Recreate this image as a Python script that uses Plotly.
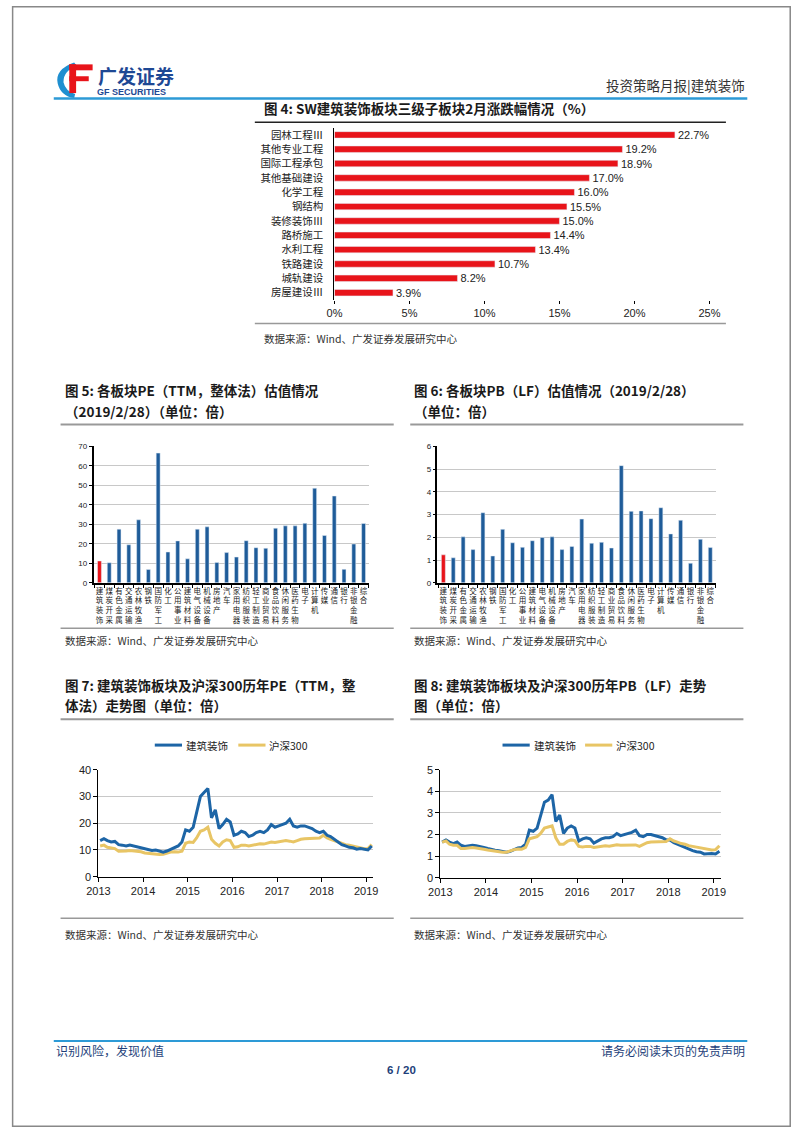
import plotly.graph_objects as go
import pandas as pd

W, H = 802, 1133

# ---------------- data ----------------
sub_cats = ["园林工程Ⅲ", "其他专业工程", "国际工程承包", "其他基础建设", "化学工程", "钢结构",
            "装修装饰Ⅲ", "路桥施工", "水利工程", "铁路建设", "城轨建设", "房屋建设Ⅲ"]
sub_chg = [22.7, 19.2, 18.9, 17.0, 16.0, 15.5, 15.0, 14.4, 13.4, 10.7, 8.2, 3.9]

sectors = ["建筑装饰", "煤炭开采", "有色金属", "交通运输", "农林牧渔", "钢铁", "国防军工", "化工",
           "公用事业", "建筑材料", "电气设备", "机械设备", "房地产", "汽车", "家用电器", "纺织服装",
           "轻工制造", "商业贸易", "食品饮料", "休闲服务", "医药生物", "电子", "计算机", "传媒",
           "通信", "银行", "非银金融", "综合"]
pe_vals = [11.2, 10.3, 27.5, 19.5, 32.3, 6.8, 66.5, 15.8, 21.5, 12.3, 27.5, 28.7, 10.4, 15.5,
           13.2, 21.6, 18.0, 17.7, 28.0, 29.2, 29.2, 30.5, 48.5, 24.3, 44.5, 6.9, 19.9, 30.4]
pb_vals = [1.23, 1.10, 2.02, 1.46, 3.08, 1.18, 2.35, 1.76, 1.56, 1.85, 1.99, 2.02, 1.46, 1.60,
           2.80, 1.74, 1.78, 1.53, 5.15, 3.14, 3.16, 2.82, 3.30, 2.15, 2.75, 0.86, 1.91, 1.55]

months = pd.date_range("2013-01-01", "2019-02-01", freq="MS") + pd.Timedelta(days=14)

pe_jz = [13.5, 14.2, 13.5, 13.0, 13.2, 12.0, 11.8, 11.5, 11.8, 11.5, 11.2, 10.8,
         10.5, 10.3, 9.8, 10.0, 9.5, 9.2, 9.6, 10.2, 11.0, 11.5, 13.0, 17.5,
         17.0, 18.5, 24.0, 30.0, 31.5, 33.0, 22.0, 25.0, 18.0, 19.5, 21.5, 20.5,
         15.5, 16.0, 17.0, 16.5, 15.0, 15.5, 16.5, 17.0, 16.5, 17.5, 19.5, 18.5,
         19.0, 19.5, 20.0, 21.5, 19.0, 18.5, 19.0, 19.0, 18.5, 18.0, 17.0, 16.5,
         17.0, 15.5, 15.0, 14.0, 13.0, 12.0, 11.5, 11.0, 10.8, 10.3, 10.5, 10.2,
         10.0, 11.5]
pe_hs = [11.5, 11.8, 11.0, 10.8, 10.5, 9.5, 9.5, 9.6, 9.8, 9.7, 9.6, 9.3,
         8.9, 8.7, 8.5, 8.4, 8.3, 8.4, 8.8, 9.2, 9.3, 9.2, 9.5, 12.5,
         13.0, 12.8, 14.5, 17.0, 17.5, 18.5, 14.0, 12.5, 11.5, 13.0, 13.8, 13.5,
         11.0, 11.2, 11.8, 11.8, 11.5, 11.8, 12.0, 12.3, 12.2, 12.5, 13.0, 12.8,
         13.0, 13.2, 13.5, 13.3, 13.0, 13.5, 14.0, 14.2, 14.3, 14.5, 14.5, 14.5,
         15.5, 14.5, 14.0, 13.5, 13.0, 12.5, 12.0, 11.8, 11.5, 11.0, 10.8, 10.5,
         10.5, 12.0]
pb_jz = [1.65, 1.75, 1.65, 1.58, 1.65, 1.50, 1.45, 1.48, 1.50, 1.48, 1.45, 1.40,
         1.35, 1.30, 1.27, 1.25, 1.20, 1.18, 1.22, 1.30, 1.38, 1.40, 1.55, 2.20,
         2.15, 2.30, 2.90, 3.50, 3.60, 3.85, 2.60, 2.90, 2.05, 2.30, 2.40, 2.30,
         1.70, 1.80, 1.85, 1.80, 1.60, 1.70, 1.80, 1.85, 1.85, 1.90, 2.05, 1.95,
         2.00, 2.05, 2.10, 2.20, 1.95, 1.90, 2.00, 2.00, 1.95, 1.90, 1.85, 1.75,
         1.75, 1.62, 1.55, 1.48, 1.40, 1.30, 1.25, 1.20, 1.18, 1.10, 1.12, 1.12,
         1.10, 1.22]
pb_hs = [1.65, 1.70, 1.55, 1.50, 1.50, 1.35, 1.35, 1.38, 1.40, 1.38, 1.36, 1.32,
         1.28, 1.25, 1.22, 1.22, 1.18, 1.18, 1.25, 1.30, 1.33, 1.32, 1.40, 1.80,
         1.85, 1.90, 2.05, 2.30, 2.35, 2.40, 1.85, 1.55, 1.55, 1.68, 1.75, 1.72,
         1.45, 1.42, 1.45, 1.45, 1.40, 1.42, 1.45, 1.48, 1.46, 1.48, 1.52, 1.50,
         1.50, 1.52, 1.53, 1.52, 1.45, 1.55, 1.62, 1.65, 1.66, 1.68, 1.70, 1.68,
         1.80, 1.70, 1.65, 1.58, 1.55, 1.48, 1.45, 1.42, 1.40, 1.35, 1.32, 1.28,
         1.30, 1.48]

year_ticks = ["2013", "2014", "2015", "2016", "2017", "2018", "2019"]

# ---------------- styles ----------------
RED = "#e8141a"
BLUE = "#1f5c99"
LBLUE = "#1d65a6"
GOLD = "#e8c565"
GRID = "#c8c8c8"
CJK = "Noto Sans CJK SC"
LAT = "Liberation Sans, Arial, sans-serif"


def X(px):
    return px / W


def Y(py):
    return 1 - py / H


def xd(a, b):
    return [X(a), X(b)]


def yd(top, bottom):
    return [Y(bottom), Y(top)]


fig = go.Figure()

# Fig 4 horizontal bars
fig.add_trace(go.Bar(
    y=sub_cats, x=sub_chg, orientation="h", marker_color=RED, width=0.45,
    texttemplate="%{x:.1f}%", textposition="outside", cliponaxis=False,
    constraintext="none", textangle=0,
    textfont=dict(family=LAT, size=11, color="#222"),
    xaxis="x", yaxis="y", showlegend=False, hoverinfo="skip"))

# Fig 5 PE bars
bar_colors = [RED] + [BLUE] * (len(sectors) - 1)
fig.add_trace(go.Bar(x=sectors, y=pe_vals, marker_color=bar_colors, width=0.4,
                     xaxis="x2", yaxis="y2", showlegend=False, hoverinfo="skip"))
# Fig 6 PB bars
fig.add_trace(go.Bar(x=sectors, y=pb_vals, marker_color=bar_colors, width=0.4,
                     xaxis="x3", yaxis="y3", showlegend=False, hoverinfo="skip"))

# Fig 7 PE lines
fig.add_trace(go.Scatter(x=months, y=pe_hs, mode="lines", line=dict(color=GOLD, width=3),
                         xaxis="x4", yaxis="y4", showlegend=False, hoverinfo="skip"))
fig.add_trace(go.Scatter(x=months, y=pe_jz, mode="lines", line=dict(color=LBLUE, width=3),
                         xaxis="x4", yaxis="y4", showlegend=False, hoverinfo="skip"))
# Fig 8 PB lines
fig.add_trace(go.Scatter(x=months, y=pb_jz, mode="lines", line=dict(color=LBLUE, width=3),
                         xaxis="x5", yaxis="y5", showlegend=False, hoverinfo="skip"))
fig.add_trace(go.Scatter(x=months, y=pb_hs, mode="lines", line=dict(color=GOLD, width=3),
                         xaxis="x5", yaxis="y5", showlegend=False, hoverinfo="skip"))

vert_labels = ["<br>".join(list(s)) for s in sectors]

small_tick = dict(family=LAT, size=8, color="#222")
mid_tick = dict(family=LAT, size=11, color="#222")

cat_x = dict(type="category", tickmode="array", tickvals=sectors, ticktext=vert_labels,
             tickangle=0, tickfont=dict(family=CJK, size=7.5, color="#222"),
             showline=True, linecolor="#000", linewidth=1.5, ticks="outside",
             tickson="boundaries", ticklen=3, tickcolor="#000", showgrid=False,
             range=[-0.6, 27.6])

date_x = dict(type="date", range=["2013-01-01", "2019-02-28"],
              tickvals=[f"{y}-01-01" for y in year_ticks], ticktext=year_ticks,
              tickfont=mid_tick, showline=True, linecolor="#000", linewidth=1,
              ticks="outside", ticklen=4, tickcolor="#000", showgrid=False)

fig.update_layout(
    width=W, height=H, margin=dict(l=0, r=0, t=0, b=0),
    paper_bgcolor="white", plot_bgcolor="rgba(0,0,0,0)",
    bargap=0.5,
    xaxis=dict(domain=xd(332, 718), anchor="y", range=[0, 25],
               tickvals=[0, 5, 10, 15, 20, 25], ticktext=["0%", "5%", "10%", "15%", "20%", "25%"],
               tickfont=mid_tick, showgrid=False, zeroline=False, showline=False,
               ticks="outside", ticklen=3, tickcolor="#000"),
    yaxis=dict(domain=yd(123, 297), anchor="x", type="category", autorange="reversed",
               tickfont=dict(family=CJK, size=10.5, color="#222"),
               showline=True, linecolor="#000", linewidth=1, ticks="", ticklabelstandoff=8),
    xaxis2=dict(domain=xd(84, 368), anchor="y2", **cat_x),
    yaxis2=dict(domain=yd(445, 583), anchor="x2", range=[0, 70], dtick=10,
                tickfont=small_tick, showgrid=True, gridcolor=GRID, gridwidth=1,
                showline=True, linecolor="#000", linewidth=1.5, zeroline=False,
                ticks="outside", ticklen=3, tickcolor="#000"),
    xaxis3=dict(domain=xd(438, 725), anchor="y3", **cat_x),
    yaxis3=dict(domain=yd(445, 583), anchor="x3", range=[0, 6], dtick=1,
                tickfont=small_tick, showgrid=True, gridcolor=GRID, gridwidth=1,
                showline=True, linecolor="#000", linewidth=1.5, zeroline=False,
                ticks="outside", ticklen=3, tickcolor="#000"),
    xaxis4=dict(domain=xd(89, 372), anchor="y4", **date_x),
    yaxis4=dict(domain=yd(772, 880), anchor="x4", range=[0, 40], dtick=10,
                tickfont=mid_tick, showgrid=True, gridcolor=GRID, gridwidth=1,
                showline=True, linecolor="#000", linewidth=1, zeroline=False,
                ticks="outside", ticklen=4, tickcolor="#000"),
    xaxis5=dict(domain=xd(441, 730), anchor="y5", **date_x),
    yaxis5=dict(domain=yd(772, 881), anchor="x5", range=[0, 5], dtick=1,
                tickfont=mid_tick, showgrid=True, gridcolor=GRID, gridwidth=1,
                showline=True, linecolor="#000", linewidth=1, zeroline=False,
                ticks="outside", ticklen=4, tickcolor="#000"),
)

shapes = []
annos = []


def hline(y, x0, x1, color, width):
    shapes.append(dict(type="line", xref="paper", yref="paper", x0=X(x0), x1=X(x1),
                       y0=Y(y), y1=Y(y), line=dict(color=color, width=width)))


def text(x, y, s, size=11, color="#333", bold=False, anchor="left", family=CJK):
    annos.append(dict(xref="paper", yref="paper", x=X(x), y=Y(y), text=(f"<b>{s}</b>" if bold else s),
                      showarrow=False, xanchor=anchor, yanchor="middle",
                      font=dict(family=family, size=size, color=color)))


# page border
shapes.append(dict(type="rect", xref="paper", yref="paper", x0=0.0008, x1=0.999, y0=0.0006, y1=0.9994,
                   line=dict(color="#888", width=1.5)))

# header logo
shapes.append(dict(type="path", xref="paper", yref="paper",
                   path=f"M {X(64)},{Y(57)} Q {X(44)},{Y(64)} {X(47)},{Y(78)} Q {X(50)},{Y(91)} {X(64)},{Y(93)} "
                        f"L {X(65)},{Y(89)} Q {X(55)},{Y(86)} {X(53)},{Y(77)} Q {X(53)},{Y(65)} {X(67)},{Y(61)} Z",
                   fillcolor="#1f8fd0", line=dict(width=0)))
for (a, b, c, d) in [(59, 59, 83, 65), (59, 59, 66, 88), (59, 71, 79, 76)]:
    shapes.append(dict(type="rect", xref="paper", yref="paper", x0=X(a), x1=X(c), y0=Y(d), y1=Y(b),
                       fillcolor="#e8141a", line=dict(width=0)))
text(86, 70, "广发证券", size=19, color="#1e4894", bold=True)
text(85, 87, "GF SECURITIES", size=9, color="#1e4894", bold=True, family=LAT)
text(757, 80, "投资策略月报|建筑装饰", size=13.5, color="#333", anchor="right")
hline(93.5, 43, 757, "#2d9ad6", 2.5)

# figure 4
text(257, 103, "图 4: SW建筑装饰板块三级子板块2月涨跌幅情况（%）", size=13.5, color="#1a1a1a", bold=True)
hline(117.5, 250, 735, "#222", 1.5)
hline(321, 250, 735, "#999", 1.5)
text(257, 336, "数据来源：Wind、广发证券发展研究中心", size=10.5, color="#333")

# figure 5 / 6 titles
text(52, 388, "图 5: 各板块PE（TTM，整体法）估值情况", size=13.5, color="#1a1a1a", bold=True)
text(52, 409, "（2019/2/28）（单位：倍）", size=13.5, color="#1a1a1a", bold=True)
text(412, 388, "图 6: 各板块PB（LF）估值情况（2019/2/28）", size=13.5, color="#1a1a1a", bold=True)
text(412, 409, "（单位：倍）", size=13.5, color="#1a1a1a", bold=True)
hline(423, 50, 393, "#999", 2)
hline(423, 410, 753, "#999", 2)
hline(629, 50, 393, "#999", 1.5)
hline(629, 410, 753, "#999", 1.5)
text(52, 641, "数据来源：Wind、广发证券发展研究中心", size=10.5, color="#333")
text(412, 641, "数据来源：Wind、广发证券发展研究中心", size=10.5, color="#333")

# figure 7 / 8 titles
text(52, 686, "图 7: 建筑装饰板块及沪深300历年PE（TTM，整", size=13.5, color="#1a1a1a", bold=True)
text(52, 706, "体法）走势图（单位：倍）", size=13.5, color="#1a1a1a", bold=True)
text(412, 686, "图 8: 建筑装饰板块及沪深300历年PB（LF）走势", size=13.5, color="#1a1a1a", bold=True)
text(412, 706, "图（单位：倍）", size=13.5, color="#1a1a1a", bold=True)
hline(721, 50, 393, "#999", 2)
hline(721, 410, 753, "#999", 2)

# legends for fig 7 / 8
for (bx, yx) in [(147, 233), (505, 590)]:
    hline(747, bx, bx + 28, LBLUE, 3)
    text(bx + 30, 747, "建筑装饰", size=10.5, color="#222")
    hline(747, yx, yx + 28, GOLD, 3)
    text(yx + 30, 747, "沪深300", size=10.5, color="#222")

hline(922, 50, 393, "#999", 1.5)
hline(922, 410, 753, "#999", 1.5)
text(52, 938, "数据来源：Wind、广发证券发展研究中心", size=10.5, color="#333")
text(412, 938, "数据来源：Wind、广发证券发展研究中心", size=10.5, color="#333")

# footer
hline(1046, 43, 757, "#2d9ad6", 2)
text(43, 1056, "识别风险，发现价值", size=12, color="#1e3f7a")
text(757, 1056, "请务必阅读末页的免责声明", size=12, color="#1e3f7a", anchor="right")
text(401, 1075, "6 / 20", size=11.5, color="#1e3f7a", bold=True, anchor="center", family=LAT)

fig.update_layout(shapes=shapes, annotations=annos)

post = ("document.documentElement.style.margin='0';document.documentElement.style.overflow='hidden';"
        "document.body.style.margin='0';document.body.style.overflow='hidden';"
        "var d=document.getElementById('{plot_id}');d.style.position='fixed';d.style.left='0px';d.style.top='0px';")
fig.write_html("out.html", config={"displayModeBar": False}, post_script=post)
